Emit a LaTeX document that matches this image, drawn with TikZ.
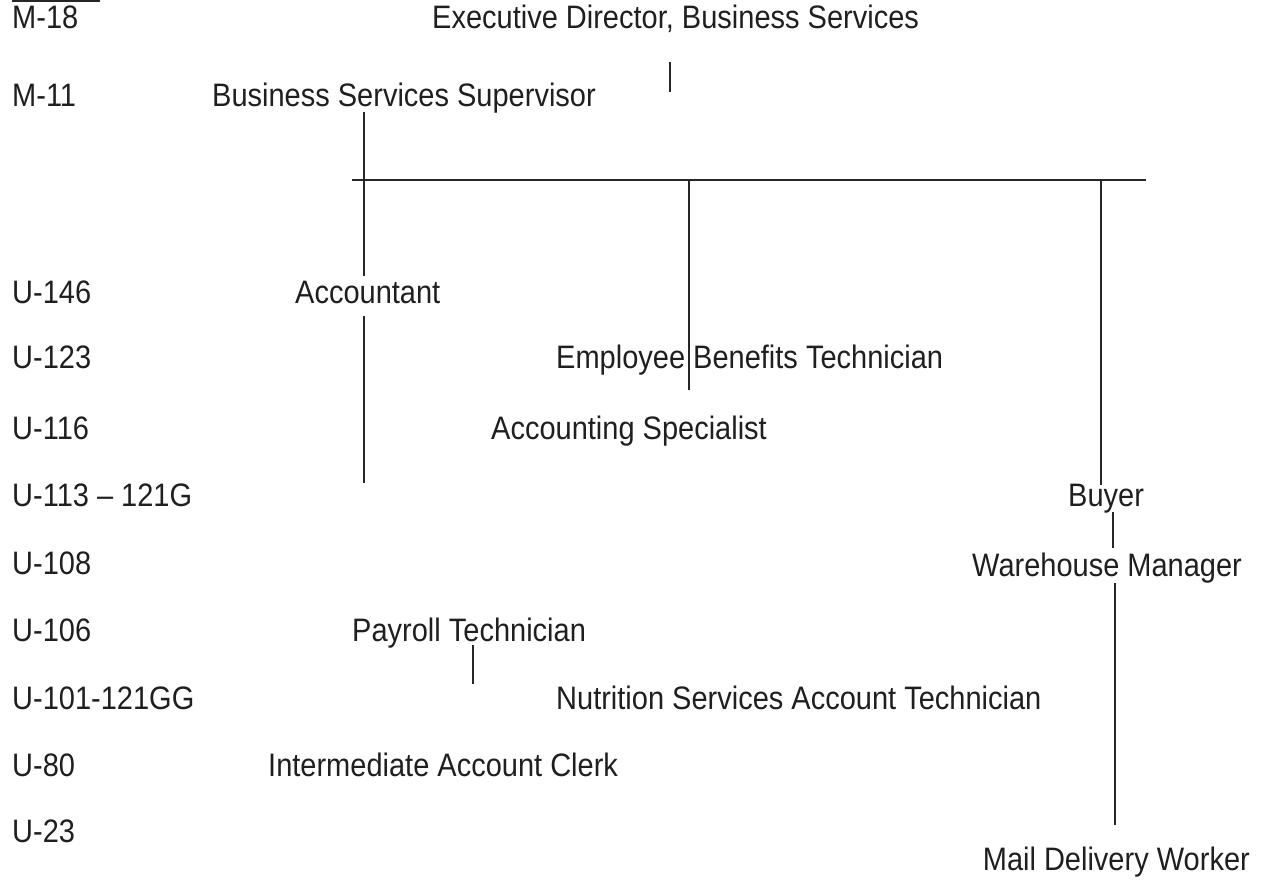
\documentclass[tikz,border=0pt]{standalone}
\usepackage{fontspec}
\setmainfont{Liberation Sans}
\tikzset{
  lbl/.style={anchor=base west, inner sep=0pt, text=black!88, font=\fontsize{29}{34}\selectfont},
  conn/.style={line width=2.7pt, draw=black!85},
}
\newcommand{\tx}[1]{\scalebox{1}[1.12]{#1}}
\begin{document}
\begin{tikzpicture}[x=1pt,y=-1pt]
\useasboundingbox (0,0) rectangle (1266,882);
% grade labels
\node[lbl] (g1) at (12,29) {\tx{M-18}};
\node[lbl] (g2) at (12,107) {\tx{M-11}};
\node[lbl] (g3) at (12,304) {\tx{U-146}};
\node[lbl] (g4) at (12,369) {\tx{U-123}};
\node[lbl] (g5) at (12,439) {\tx{U-116}};
\node[lbl] (g6) at (12,506) {\tx{U-113 -- 121G}};
\node[lbl] (g7) at (12,574) {\tx{U-108}};
\node[lbl] (g8) at (12,641) {\tx{U-106}};
\node[lbl] (g9) at (12,709) {\tx{U-101-121GG}};
\node[lbl] (g10) at (12,776) {\tx{U-80}};
\node[lbl] (g11) at (12,842) {\tx{U-23}};
\coordinate (ul1) at (12,1);
\coordinate (ul2) at (100,1);
\draw[line width=1.8pt, draw=black!85] (ul1) -- (ul2);
% positions
\node[lbl] (exec) at (432,29) {\tx{Executive Director, Business Services}};
\node[lbl] (sup) at (212,107) {\tx{Business Services Supervisor}};
\node[lbl] (acc) at (295,304) {\tx{Accountant}};
\node[lbl] (ebt) at (556,369) {\tx{Employee Benefits Technician}};
\node[lbl] (aspec) at (491,439) {\tx{Accounting Specialist}};
\node[lbl] (buyer) at (1068,506) {\tx{Buyer}};
\node[lbl] (wm) at (972,576) {\tx{Warehouse Manager}};
\node[lbl] (pay) at (352,641) {\tx{Payroll Technician}};
\node[lbl] (nut) at (556,709) {\tx{Nutrition Services Account Technician}};
\node[lbl] (iac) at (268,776) {\tx{Intermediate Account Clerk}};
\node[lbl, anchor=base east] (mail) at (1250,870) {\tx{Mail Delivery Worker}};
% connectors
\coordinate (e1) at (670,62);
\coordinate (e2) at (670,92);
\draw[conn] (e1) -- (e2);
\coordinate (hl) at (352,180);
\coordinate (hr) at (1146,180);
\draw[conn] (hl) -- (hr);
\coordinate (s1) at (364,112);
\coordinate (a1) at (364,276);
\draw[conn] (s1) -- (a1);
\coordinate (a2) at (364,316);
\coordinate (a3) at (364,483);
\draw[conn] (a2) -- (a3);
\coordinate (b1) at (689,180);
\coordinate (b2) at (689,390);
\draw[conn] (b1) -- (b2);
\coordinate (c1) at (1101,180);
\coordinate (c2) at (1101,485);
\draw[conn] (c1) -- (c2);
\coordinate (d1) at (1113,512);
\coordinate (d2) at (1113,548);
\draw[conn] (d1) -- (d2);
\coordinate (w1) at (1115,583);
\coordinate (w2) at (1115,825);
\draw[conn] (w1) -- (w2);
\coordinate (p1) at (473,645);
\coordinate (p2) at (473,684);
\draw[conn] (p1) -- (p2);
\end{tikzpicture}
\end{document}
